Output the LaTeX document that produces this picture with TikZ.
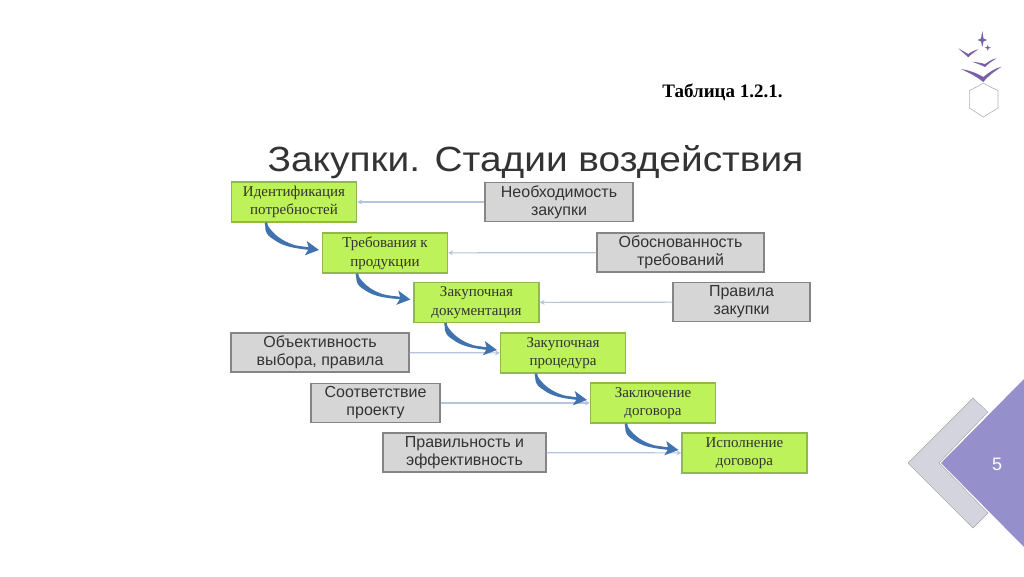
\documentclass[tikz,border=0pt]{standalone}
\usepackage{fontspec}
\usepackage{graphicx}
\setmainfont{Liberation Serif}
\setsansfont{Liberation Sans}
\usetikzlibrary{arrows.meta}
\definecolor{boxgreen}{HTML}{BDF25A}
\definecolor{boxgreenline}{HTML}{75923C}
\definecolor{boxgray}{HTML}{D6D6D6}
\definecolor{boxgrayline}{HTML}{858585}
\definecolor{stageblue}{HTML}{3F72AF}
\definecolor{linkblue}{HTML}{B4C4DA}
\definecolor{cornerviolet}{HTML}{9590CB}
\definecolor{cornergray}{HTML}{D4D4DE}
\definecolor{logoviolet}{HTML}{7A5FA8}
\tikzset{
    greenbox/.style={draw=boxgreen!40!boxgreenline, line width=1.2pt, fill=boxgreen, minimum width=125pt, minimum height=40pt, inner sep=0pt, align=center, text=black!80, font=\fontsize{15}{18.5}\selectfont},
    graybox/.style={draw=boxgrayline, line width=1.2pt, fill=boxgray, minimum height=39pt, inner sep=0pt, align=center, text=black!80, font=\sffamily\fontsize{16}{18}\selectfont},
    stagearrow/.style={draw=stageblue, line width=2.6pt, -{Stealth[length=13pt,width=14pt,inset=3pt]}},
    linkarrow/.style={draw=linkblue, line width=1.2pt, -{Stealth[length=5pt,width=5pt]}},
}
% curved arrow that grows towards its head
\newcommand{\stagelink}[3]{
    \coordinate (#1out) at ([xshift=#3pt]#1.south west);
    \coordinate (#2in) at ([xshift=-3pt,yshift=3pt]#2.west);
    \fill[stageblue] (#1out) to[out=-105, in=165] (#2in) to[out=172, in=-60] (#1out);
    \draw[stagearrow] (#1out) to[out=-82, in=172] (#2in);
}
\begin{document}
\begin{tikzpicture}[x=1pt, y=-1pt]
    \useasboundingbox (0,0) rectangle (1024,576);

    % corner
    \fill[cornergray, draw=gray!70] (908,463) -- (973,398) -- (988,412) -- (939,463) -- (988,513) -- (973,528) -- cycle;
    \fill[cornerviolet] (941,463) -- (1024,379) -- (1024,547) -- cycle;
    \node[text=white, font=\sffamily\fontsize{18}{18}\selectfont] (pagenum) at (997,464) {5};

    % logo
    \fill[logoviolet] (982.3,31) -- (983.5,38.5) -- (987,40) -- (983.5,41.5) -- (982.3,47) -- (981,41.5) -- (977.5,40) -- (981,38.5) -- cycle;
    \fill[logoviolet] (987.7,44.5) -- (988.5,47) -- (991,47.7) -- (988.5,48.5) -- (987.7,51) -- (987,48.5) -- (984.5,47.7) -- (987,47) -- cycle;
    \fill[logoviolet] (958.3,48.3) .. controls (963,51) and (966,53) .. (968.3,54) .. controls (971,52) and (975,50) .. (978.3,49.3) .. controls (975,52) and (971,54) .. (968.3,57.3) .. controls (966,55) and (962,52) .. (958.3,48.3) -- cycle;
    \fill[logoviolet] (971.7,61.7) .. controls (976,62) and (981,63) .. (985,64) .. controls (988,62) and (992,59) .. (996.7,58.3) .. controls (992,61) and (988,64) .. (985,67) .. controls (981,65) and (976,63) .. (971.7,61.7) -- cycle;
    \fill[logoviolet] (960.7,69) .. controls (968,70) and (977,73) .. (983.3,77) .. controls (988,73) and (995,68) .. (1001.7,66.7) .. controls (995,71) and (988,76) .. (983.3,82) .. controls (977,77) and (968,72) .. (960.7,69) -- cycle;
    \draw[gray!60, line width=0.6pt] (983.3,83.3) -- (998,90.7) -- (998,108) -- (983.3,117) -- (969.3,108) -- (969.3,90.7) -- cycle;

    % headings
    \node[font=\bfseries\fontsize{19}{19}\selectfont] (tablenum) at (722.5,92) {Таблица 1.2.1.};
    \node[text=black!80, font=\sffamily\fontsize{35}{35}\selectfont] (heading) at (535.5,162) {\scalebox{1.11}[1]{Закупки. Стадии воздействия}};

    % stages
    \node[greenbox] (ident) at (294,202) {Идентификация\\потребностей};
    \node[greenbox] (treb) at (385,253) {Требования к\\продукции};
    \node[greenbox] (zakdoc) at (476.5,302.5) {Закупочная\\документация};
    \node[greenbox] (zakproc) at (563,353) {Закупочная\\процедура};
    \node[greenbox] (zakl) at (653,403) {Заключение\\договора};
    \node[greenbox] (ispoln) at (744.5,453) {Исполнение\\договора};

    % requirements
    \node[graybox, minimum width=148pt] (neob) at (559,202) {Необходимость\\закупки};
    \node[graybox, minimum width=167pt] (obosn) at (680.5,252.5) {Обоснованность\\требований};
    \node[graybox, minimum width=137pt] (pravila) at (741.5,302) {Правила\\закупки};
    \node[graybox, minimum width=178pt] (obyekt) at (320,352.5) {Объективность\\выбора, правила};
    \node[graybox, minimum width=129pt] (sootv) at (375.5,403) {Соответствие\\проекту};
    \node[graybox, minimum width=163pt] (pravilnost) at (464.5,452.5) {Правильность и\\эффективность};

    \draw[linkarrow] (neob) -- (ident);
    \draw[linkarrow] (obosn) -- (treb);
    \draw[linkarrow] (pravila) -- (zakdoc);
    \draw[linkarrow] (obyekt) -- (zakproc);
    \draw[linkarrow] (sootv) -- (zakl);
    \draw[linkarrow] (pravilnost) -- (ispoln);

    \stagelink{ident}{treb}{35}
    \stagelink{treb}{zakdoc}{35}
    \stagelink{zakdoc}{zakproc}{32}
    \stagelink{zakproc}{zakl}{36}
    \stagelink{zakl}{ispoln}{36}
\end{tikzpicture}
\end{document}
